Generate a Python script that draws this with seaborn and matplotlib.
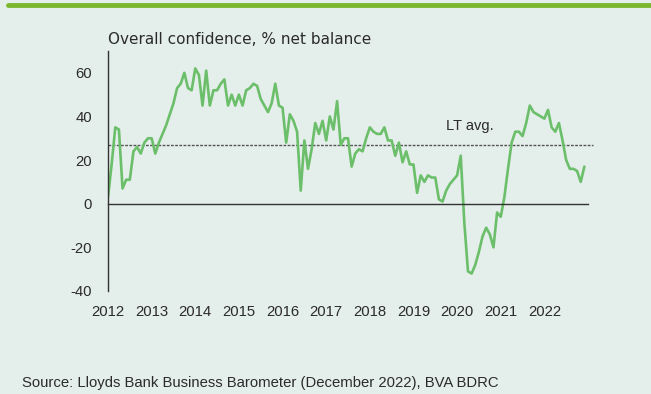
import numpy as np
import pandas as pd
import matplotlib
matplotlib.use("Agg")
import matplotlib.pyplot as plt
import seaborn as sns

# Lloyds Business Barometer - overall confidence, monthly, Jan 2012 .. Dec 2022
confidence = [
    # 2012
    3, 18, 35, 34, 7, 11, 11, 24, 26, 23, 28, 30,
    # 2013
    30, 23, 28, 32, 36, 41, 46, 53, 55, 60, 53, 52,
    # 2014
    62, 59, 45, 61, 45, 52, 52, 55, 57, 45, 50, 45,
    # 2015
    50, 45, 52, 53, 55, 54, 48, 45, 42, 46, 55, 45,
    # 2016
    44, 28, 41, 38, 33, 6, 29, 16, 25, 37, 32, 38,
    # 2017
    29, 40, 34, 47, 27, 30, 30, 17, 23, 25, 24, 30,
    # 2018
    35, 33, 32, 32, 35, 29, 29, 22, 28, 19, 24, 18,
    # 2019
    18, 5, 13, 10, 13, 12, 12, 2, 1, 6, 9, 11,
    # 2020
    13, 22, -9, -31, -32, -28, -22, -15, -11, -14, -20, -4,
    # 2021
    -6, 3, 16, 28, 33, 33, 31, 37, 45, 42, 41, 40,
    # 2022
    39, 43, 35, 33, 37, 29, 20, 16, 16, 15, 10, 17,
]
start_year = 2012
years = list(range(2012, 2024))
year_labels = [str(y) for y in range(2012, 2023)] + [""]
y_ticks = [-40, -20, 0, 20, 40, 60]
lt_avg = 27

df = pd.DataFrame({
    "t": [start_year + i / 12 for i in range(len(confidence))],
    "confidence": confidence,
})

sns.set_theme(style="white")
plt.rcParams["font.family"] = ["Liberation Sans", "DejaVu Sans"]
plt.rcParams["axes.unicode_minus"] = False

bg = "#e4eeea"
txt = "#2b2b2b"

fig = plt.figure(figsize=(6.51, 3.94), dpi=100, facecolor=bg)
ax = fig.add_axes([108 / 651, 1 - 291 / 394, 480 / 651, 240 / 394])
ax.set_facecolor(bg)

sns.lineplot(data=df, x="t", y="confidence", ax=ax, color="#6cbf6a", lw=1.9)

# long-term average
ax.axhline(lt_avg, xmin=0, xmax=1.01, color="#555555", lw=1.0,
           ls=(0, (2, 1)), clip_on=False, zorder=1)
ax.text(2020.3, 35.5, "LT avg.", ha="center", va="center",
        fontsize=10.5, color=txt)

ax.set_xlim(2012, 2023)
ax.set_ylim(-40, 70)
ax.set_xticks(years)
ax.set_xticklabels(year_labels)
ax.set_yticks(y_ticks)
ax.set_xlabel("")
ax.set_ylabel("")

for s in ["top", "right"]:
    ax.spines[s].set_visible(False)
ax.spines["left"].set_color("#333333")
ax.spines["left"].set_linewidth(1.0)
ax.spines["bottom"].set_position(("data", 0))
ax.spines["bottom"].set_color("#333333")
ax.spines["bottom"].set_linewidth(1.0)

ax.tick_params(axis="x", direction="out", length=4, width=1, color="#333333",
               pad=69, labelsize=10.7, labelcolor=txt)
ax.tick_params(axis="y", direction="out", length=4.5, width=1, color="#333333",
               pad=7, labelsize=10.7, labelcolor=txt)

# header rule, title, source
fig.add_artist(plt.Line2D([0.012, 1], [1 - 4.5 / 394] * 2,
                          transform=fig.transFigure, color="#7cb82f", lw=3.5))
fig.text(108 / 651, 1 - 39 / 394, "Overall confidence, % net balance",
         ha="left", va="center", fontsize=11, color=txt,
         family=["DejaVu Sans"])
fig.text(22 / 651, 1 - 383 / 394,
         "Source: Lloyds Bank Business Barometer (December 2022), BVA BDRC",
         ha="left", va="center", fontsize=10.7, color=txt)

fig.savefig("out.png", dpi=100, facecolor=bg)
